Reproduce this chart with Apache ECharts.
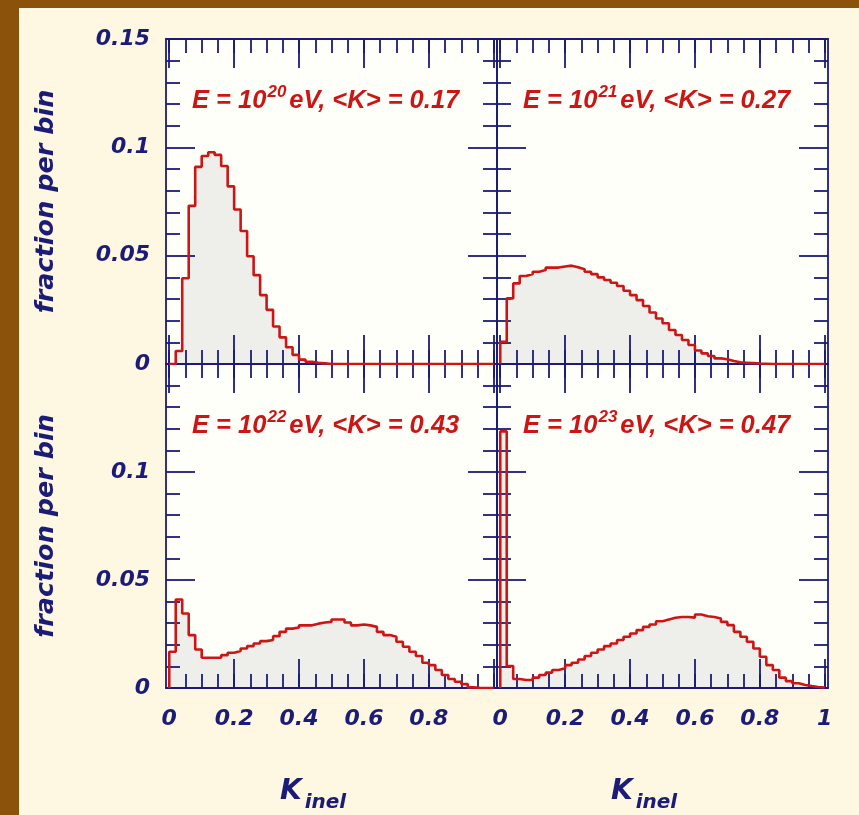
<!DOCTYPE html>
<html><head><meta charset="utf-8">
<script src="https://cdn.jsdelivr.net/npm/echarts@6/dist/echarts.min.js"></script>
<style>
html,body{margin:0;padding:0;}
#wrap{position:relative;width:859px;height:815px;background:#FEF7E1;border-left:19px solid #8A520A;border-top:8px solid #8A520A;box-sizing:border-box;overflow:hidden;}
#chart{position:absolute;left:-19px;top:-8px;width:859px;height:815px;}
</style></head>
<body><div id="wrap"><div id="chart"></div></div>
<script>
// ---- data (fraction per bin, 50 bins of width 0.02 over K_inel in [0,1]) ----
const binWidth = 0.02;
const hist1e20 = [0, 0.006, 0.0396, 0.073, 0.091, 0.096, 0.0977, 0.0965, 0.0914, 0.082,
  0.0713, 0.0614, 0.0497, 0.041, 0.0318, 0.025, 0.0173, 0.0123, 0.0077, 0.0042,
  0.002, 0.001, 0.0006, 0.0003, 0, 0, 0, 0, 0, 0,
  0, 0, 0, 0, 0, 0, 0, 0, 0, 0,
  0, 0, 0, 0, 0, 0, 0, 0, 0, 0];
const hist1e21 = [0.0103, 0.0303, 0.0372, 0.0406, 0.0415, 0.0426, 0.0434, 0.0445, 0.0445, 0.045,
  0.0454, 0.0446, 0.0437, 0.0426, 0.0415, 0.04, 0.0388, 0.0375, 0.036, 0.0338,
  0.0318, 0.0295, 0.0268, 0.0238, 0.021, 0.0188, 0.0157, 0.0134, 0.0111, 0.0088,
  0.0062, 0.0049, 0.0037, 0.0026, 0.0022, 0.0014, 0.0008, 0.0006, 0.0004, 0.0002,
  0.0001, 0, 0, 0, 0, 0, 0, 0, 0, 0];
const hist1e22 = [0.0168, 0.041, 0.0345, 0.0245, 0.0178, 0.014, 0.014, 0.014, 0.0152, 0.0163,
  0.0171, 0.0183, 0.0194, 0.0206, 0.0217, 0.0222, 0.024, 0.026, 0.0275, 0.028,
  0.029, 0.029, 0.0298, 0.0303, 0.0306, 0.0317, 0.0317, 0.0303, 0.029, 0.0294,
  0.029, 0.0283, 0.026, 0.0245, 0.0237, 0.0214, 0.0191, 0.0168, 0.0148, 0.0117,
  0.0106, 0.0083, 0.006, 0.0042, 0.0029, 0.0018, 0.0003, 0, 0, 0];
const hist1e23 = [0.1188, 0.0102, 0.0042, 0.0037, 0.0037, 0.0048, 0.006, 0.0071, 0.0083, 0.0091,
  0.0106, 0.0117, 0.0132, 0.0148, 0.0163, 0.0178, 0.0194, 0.0206, 0.0222, 0.0237,
  0.0252, 0.0268, 0.0283, 0.0294, 0.0309, 0.0317, 0.0325, 0.0329, 0.0329, 0.0326,
  0.034, 0.0332, 0.0329, 0.0322, 0.0306, 0.0291, 0.026, 0.0237, 0.0214, 0.0183,
  0.0145, 0.0106, 0.0083, 0.0048, 0.0032, 0.0022, 0.0014, 0.0009, 0.0005, 0.0002];
const energyExponents = ['20', '21', '22', '23'];
const meanK = ['0.17', '0.27', '0.43', '0.47'];
const xMajorTicks = [0, 0.2, 0.4, 0.6, 0.8, 1];
const xMinorTicks = [0, 0.05, 0.1, 0.15, 0.2, 0.25, 0.3, 0.35, 0.4, 0.45, 0.5, 0.55, 0.6, 0.65, 0.7, 0.75, 0.8, 0.85, 0.9, 0.95, 1];
const xLabelsLeft = [0, 0.2, 0.4, 0.6, 0.8];
const xLabelsRight = [0, 0.2, 0.4, 0.6, 0.8, 1];
const yLabelsTop = [0, 0.05, 0.1, 0.15];
const yLabelsBottom = [0, 0.05, 0.1];
const yTitle = 'fraction per bin';
const xTitleMain = 'K', xTitleSub = 'inel';

// ---- styling / layout ----
const NAVY = '#1B1B78', RED = '#CC1616', FILL = '#EEEEEA', PLOTBG = '#FFFFFA';
const LW = 1.8;
const grids = [
  {left: 166, top: 39, width: 331, height: 325},
  {left: 497, top: 39, width: 331, height: 325},
  {left: 166, top: 364, width: 331, height: 324},
  {left: 497, top: 364, width: 331, height: 324}
];
const hists = [hist1e20, hist1e21, hist1e22, hist1e23];
const labelFont = {fontFamily: 'DejaVu Sans', fontWeight: 'bold', fontStyle: 'italic', fontSize: 22, color: NAVY};

function histPoints(vals) {
  const pts = [[0, 0]];
  vals.forEach((v, k) => { pts.push([k * binWidth, v]); pts.push([(k + 1) * binWidth, v]); });
  pts.push([vals.length * binWidth, 0]);
  return pts;
}

const xAxis = [], yAxis = [], series = [], title = [];
grids.forEach((g, i) => {
  const bottomRow = i >= 2, leftCol = i % 2 === 0;
  const base = {type: 'value', gridIndex: i, min: -0.01, max: 1.01, z: 3, splitLine: {show: false}};
  const line = {show: true, onZero: false, lineStyle: {color: NAVY, width: LW}};
  const noLine = {show: false, onZero: false};
  ['bottom', 'top'].forEach(pos => {
    const labelled = pos === 'bottom' && bottomRow;
    xAxis.push(Object.assign({}, base, {
      position: pos, axisLine: line,
      axisTick: {inside: true, length: 29, customValues: xMajorTicks, lineStyle: {color: NAVY, width: LW}},
      axisLabel: Object.assign({show: labelled, customValues: leftCol ? xLabelsLeft : xLabelsRight, margin: 20}, labelFont)
    }));
    xAxis.push(Object.assign({}, base, {
      position: pos, axisLine: noLine,
      axisTick: {inside: true, length: 14, customValues: xMinorTicks, lineStyle: {color: NAVY, width: LW}},
      axisLabel: {show: false}
    }));
  });
  ['left', 'right'].forEach(pos => {
    const labelled = pos === 'left' && leftCol;
    const ax = {
      type: 'value', gridIndex: i, position: pos, min: 0, max: 0.15, interval: 0.05, z: 3,
      axisLine: line, splitLine: {show: false},
      axisTick: {inside: true, length: 29, lineStyle: {color: NAVY, width: LW}},
      minorTick: {show: true, splitNumber: 5, length: 14, lineStyle: {color: NAVY, width: LW}},
      axisLabel: Object.assign({show: labelled, customValues: bottomRow ? yLabelsBottom : yLabelsTop, margin: 16}, labelFont)
    };
    if (labelled) {
      Object.assign(ax, {name: yTitle, nameLocation: 'middle', nameRotate: 90, nameGap: 107,
        nameTextStyle: {fontFamily: 'DejaVu Sans', fontWeight: 'bold', fontStyle: 'italic', fontSize: 25.5, color: NAVY}});
    }
    yAxis.push(ax);
  });
  const pts = histPoints(hists[i]);
  series.push({type: 'line', xAxisIndex: i * 4, yAxisIndex: i * 2, data: pts, symbol: 'none', silent: true,
    z: 1, lineStyle: {width: 0, opacity: 0}, areaStyle: {color: FILL, opacity: 1}});
  series.push({type: 'line', xAxisIndex: i * 4, yAxisIndex: i * 2, data: pts, symbol: 'none', silent: true,
    z: 4, lineStyle: {color: RED, width: 2.6}});
  const annFont = {fontFamily: 'Liberation Sans', fontWeight: 'bold', fontStyle: 'italic', color: RED};
  title.push({
    text: '{a|E = 10}{s|' + energyExponents[i] + '}{a|eV, <K> = ' + meanK[i] + '}',
    left: g.left + 26, top: g.top + 45, padding: 0, textAlign: 'left', textVerticalAlign: 'top',
    textStyle: {rich: {
      a: Object.assign({fontSize: 25.5, padding: [4, 0, 0, 0], verticalAlign: 'top'}, annFont),
      s: Object.assign({fontSize: 17, padding: [0, 3, 0, 1], verticalAlign: 'top'}, annFont)
    }}
  });
  if (bottomRow) {
    title.push({
      text: '{k|' + xTitleMain + '}{s|' + xTitleSub + '}',
      left: g.left + 114, top: 778, padding: 0, textAlign: 'left', textVerticalAlign: 'top',
      textStyle: {rich: {
        k: {fontFamily: 'DejaVu Sans', fontWeight: 'bold', fontStyle: 'italic', fontSize: 28, color: NAVY, verticalAlign: 'top'},
        s: {fontFamily: 'DejaVu Sans', fontWeight: 'bold', fontStyle: 'italic', fontSize: 20, color: NAVY, verticalAlign: 'top', padding: [15, 0, 0, 3]}
      }}
    });
  }
});

const chart = echarts.init(document.getElementById('chart'), null, {renderer: 'canvas'});
chart.setOption({
  animation: false,
  backgroundColor: 'transparent',
  grid: grids.map(g => Object.assign({show: true, backgroundColor: PLOTBG, borderWidth: 0}, g)),
  xAxis, yAxis, series, title
});
</script></body></html>
